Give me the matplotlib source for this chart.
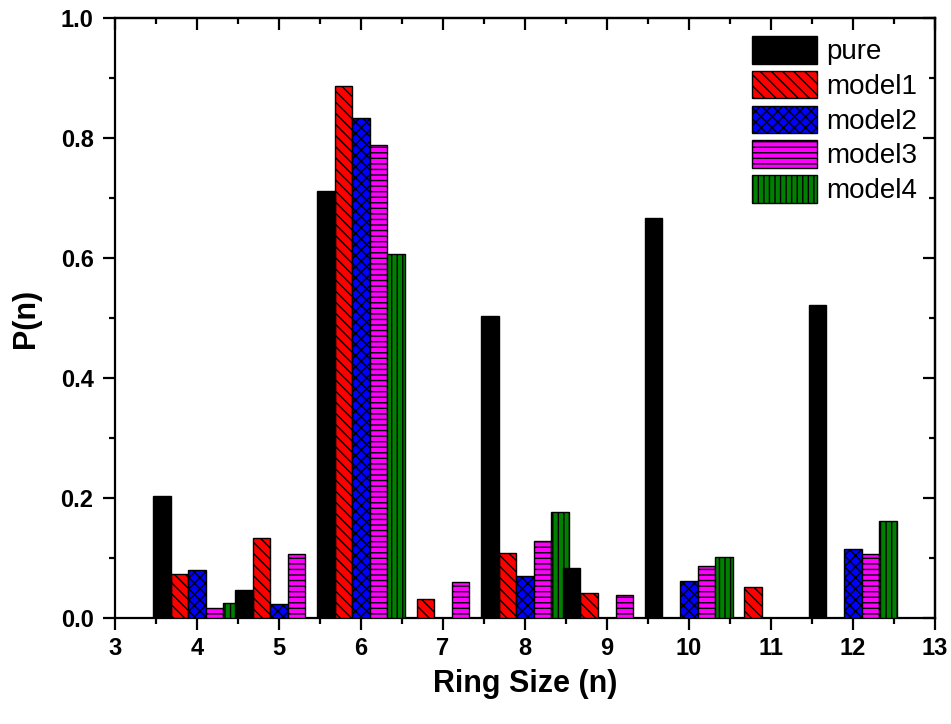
import numpy as np
import matplotlib
matplotlib.use("Agg")
import matplotlib.pyplot as plt
from matplotlib.ticker import MultipleLocator, FormatStrFormatter

plt.rcParams["font.family"] = ["Liberation Sans", "DejaVu Sans"]
plt.rcParams["hatch.linewidth"] = 1.0

# Ring-size distribution P(n)
ring_sizes = [4, 5, 6, 7, 8, 9, 10, 11, 12]
series_names = ["pure", "model1", "model2", "model3", "model4"]
pure = [0.204, 0.047, 0.712, 0.0, 0.504, 0.084, 0.667, 0.0, 0.522]
model1 = [0.073, 0.133, 0.887, 0.032, 0.109, 0.041, 0.0, 0.051, 0.0]
model2 = [0.080, 0.023, 0.833, 0.0, 0.070, 0.0, 0.062, 0.0, 0.115]
model3 = [0.017, 0.107, 0.788, 0.060, 0.128, 0.039, 0.086, 0.0, 0.107]
model4 = [0.025, 0.0, 0.606, 0.0, 0.177, 0.0, 0.102, 0.0, 0.162]

x_ticks = list(range(3, 14))
y_ticks = [0.0, 0.2, 0.4, 0.6, 0.8, 1.0]

values = [pure, model1, model2, model3, model4]
colors = ["black", "#ff0000", "#0000ff", "#ff00ff", "#008000"]
hatches = [None, "\\\\\\", "xxx", "---", "|||"]
offsets = [-0.43, -0.215, 0.0, 0.215, 0.43]
zorders = [4, 3, 3, 3, 3]
bar_w = 0.215

fig = plt.figure(figsize=(9.51, 7.24), dpi=100)
ax = fig.add_axes([0.121, 0.1464, 0.862, 0.8286])

x = np.array(ring_sizes, dtype=float)
for name, vals, col, h, off, z in zip(series_names, values, colors, hatches, offsets, zorders):
    ax.bar(x + off, vals, width=bar_w, color=col, edgecolor="black",
           linewidth=1.0, hatch=h, label=name, zorder=z)

ax.set_xlim(3, 13)
ax.set_ylim(0, 1.0)
ax.set_xticks(x_ticks)
ax.set_yticks(y_ticks)
ax.xaxis.set_minor_locator(MultipleLocator(0.5))
ax.yaxis.set_minor_locator(MultipleLocator(0.1))
ax.yaxis.set_major_formatter(FormatStrFormatter("%.1f"))

for s in ax.spines.values():
    s.set_linewidth(1.6)
ax.tick_params(which="major", direction="out", length=8.5, width=1.6,
               labelsize=17)
ax.tick_params(axis="y", which="major", pad=7)
ax.tick_params(axis="x", which="major", pad=5)
ax.tick_params(which="minor", direction="out", length=4, width=1.6)
for lab in ax.get_xticklabels() + ax.get_yticklabels():
    lab.set_fontweight("bold")

# mirrored ticks on the top and right frame, pointing inward
top = ax.secondary_xaxis("top")
top.set_xticks(x_ticks)
top.xaxis.set_minor_locator(MultipleLocator(0.5))
top.tick_params(which="major", direction="in", length=8.5, width=1.6, labeltop=False)
top.tick_params(which="minor", direction="in", length=4, width=1.6)
top.spines["top"].set_linewidth(1.6)

right = ax.secondary_yaxis("right")
right.set_yticks(y_ticks)
right.yaxis.set_minor_locator(MultipleLocator(0.1))
right.tick_params(which="major", direction="in", length=8.5, width=1.6, labelright=False)
right.tick_params(which="minor", direction="in", length=4, width=1.6)
right.spines["right"].set_linewidth(1.6)

ax.set_xlabel("Ring Size (n)", fontsize=22, fontweight="bold", labelpad=7)
ax.set_ylabel("P(n)", fontsize=22, fontweight="bold", labelpad=14)

leg = ax.legend(loc="upper left", bbox_to_anchor=(752 / 951, (724 - 36) / 724),
                bbox_transform=fig.transFigure, frameon=False, fontsize=20,
                borderpad=0, borderaxespad=0, handlelength=2.35,
                handleheight=1.15, handletextpad=0.33, labelspacing=0.2)

fig.savefig("out.png", dpi=100)
